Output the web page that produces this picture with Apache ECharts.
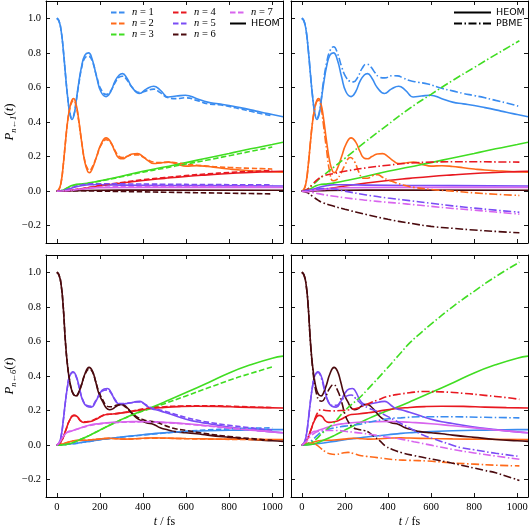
<!DOCTYPE html>
<html><head><meta charset="utf-8">
<script src="https://cdn.jsdelivr.net/npm/echarts@6/dist/echarts.min.js"></script>
<style>html,body{margin:0;padding:0;background:#fff}#c{width:529px;height:529px}</style>
</head><body><div id="c"></div>
<script>
// ---------- tick values ----------
const xTicks = [0, 200, 400, 600, 800, 1000];
const yTicks = [-0.2, 0.0, 0.2, 0.4, 0.6, 0.8, 1.0];
const levelNames = ['n = 1','n = 2','n = 3','n = 4','n = 5','n = 6','n = 7'];

// ---------- HEOM, initial state 1 ----------
const H1_n1 = [[0,1.0],[10,0.985],[20,0.93],[30,0.82],[40,0.68],[50,0.55],[60,0.455],[70,0.415],[80,0.44],[90,0.52],[100,0.61],[115,0.72],[130,0.785],[147,0.80],[165,0.76],[185,0.66],[205,0.575],[229,0.547],[250,0.575],[270,0.635],[290,0.672],[305,0.68],[325,0.655],[350,0.6],[384,0.565],[415,0.59],[450,0.607],[480,0.585],[518,0.545],[555,0.55],[597,0.555],[650,0.535],[700,0.515],[750,0.505],[800,0.495],[850,0.483],[900,0.47],[950,0.456],[1000,0.443],[1050,0.43]];
const H1_n2 = [[0,0],[10,0.01],[20,0.05],[30,0.15],[40,0.28],[50,0.4],[60,0.48],[70,0.525],[78,0.535],[90,0.5],[100,0.43],[115,0.29],[130,0.17],[143,0.115],[152,0.107],[165,0.13],[185,0.2],[205,0.27],[229,0.308],[250,0.285],[270,0.23],[290,0.19],[305,0.187],[325,0.2],[350,0.215],[375,0.217],[400,0.2],[425,0.175],[450,0.16],[480,0.163],[518,0.168],[560,0.155],[600,0.145],[650,0.147],[700,0.143],[750,0.135],[800,0.128],[850,0.122],[900,0.118],[950,0.115],[1000,0.112],[1050,0.11]];
const H1_n3 = [[0,0],[25,0.004],[50,0.02],[70,0.033],[90,0.039],[120,0.042],[150,0.048],[200,0.06],[300,0.086],[400,0.115],[500,0.14],[600,0.165],[700,0.192],[800,0.218],[900,0.245],[1000,0.27],[1050,0.283]];
const H1_n4 = [[0,0],[50,0.003],[100,0.01],[150,0.02],[200,0.03],[300,0.047],[400,0.062],[500,0.074],[600,0.085],[700,0.094],[800,0.102],[900,0.108],[1000,0.113],[1050,0.115]];
const H1_n5 = [[0,0],[30,0.004],[60,0.014],[90,0.025],[120,0.033],[150,0.037],[200,0.037],[300,0.035],[500,0.033],[700,0.032],[1050,0.03]];
const H1_n6 = [[0,0],[50,0.001],[100,0.003],[200,0.005],[400,0.006],[1050,0.005]];
const H1_n7 = [[0,0],[50,0.003],[100,0.01],[150,0.016],[200,0.02],[400,0.022],[700,0.022],[1050,0.021]];

// ---------- approximate method (dashed), initial state 1 ----------
const A1_n1 = [[0,1.0],[10,0.985],[20,0.93],[30,0.82],[40,0.68],[50,0.55],[60,0.46],[70,0.425],[80,0.445],[90,0.52],[100,0.6],[115,0.71],[130,0.77],[148,0.78],[165,0.75],[185,0.665],[205,0.59],[229,0.56],[250,0.58],[270,0.625],[290,0.66],[305,0.665],[325,0.645],[350,0.6],[384,0.57],[415,0.58],[450,0.59],[480,0.57],[518,0.54],[555,0.535],[597,0.54],[650,0.525],[700,0.505],[750,0.5],[800,0.49],[850,0.476],[900,0.462],[950,0.448],[1000,0.435]];
const A1_n2 = [[0,0],[10,0.01],[20,0.05],[30,0.15],[40,0.28],[50,0.4],[60,0.475],[70,0.515],[78,0.525],[90,0.49],[100,0.42],[115,0.29],[130,0.175],[145,0.125],[152,0.12],[165,0.14],[185,0.2],[205,0.265],[229,0.297],[250,0.28],[270,0.235],[290,0.2],[305,0.195],[325,0.2],[350,0.21],[375,0.21],[400,0.198],[425,0.18],[450,0.168],[480,0.165],[518,0.168],[560,0.163],[600,0.155],[650,0.15],[700,0.145],[750,0.14],[800,0.137],[850,0.134],[900,0.132],[950,0.13],[1000,0.128]];
const A1_n3 = [[0,0],[25,0.004],[50,0.018],[70,0.03],[90,0.036],[120,0.04],[150,0.046],[200,0.058],[300,0.083],[400,0.11],[500,0.133],[600,0.157],[700,0.18],[800,0.205],[900,0.23],[1000,0.255]];
const A1_n4 = [[0,0],[50,0.003],[100,0.011],[150,0.022],[200,0.033],[300,0.05],[400,0.066],[500,0.078],[600,0.09],[700,0.1],[800,0.108],[900,0.114],[1000,0.12]];
const A1_n5 = [[0,0],[30,0.004],[60,0.015],[90,0.028],[120,0.037],[150,0.042],[200,0.043],[300,0.042],[500,0.04],[700,0.038],[1000,0.036]];
const A1_n6 = [[0,0],[50,0.001],[100,0.002],[200,0.0],[300,-0.002],[400,-0.004],[500,-0.006],[600,-0.008],[700,-0.01],[800,-0.012],[900,-0.014],[1000,-0.016]];
const A1_n7 = [[0,0],[50,0.003],[100,0.01],[150,0.018],[200,0.023],[400,0.026],[700,0.027],[1000,0.027]];

// ---------- PBME (dash-dot), initial state 1 ----------
const P1_n1 = [[0,1.0],[10,0.985],[20,0.93],[30,0.82],[40,0.68],[50,0.55],[60,0.46],[70,0.425],[80,0.45],[90,0.53],[100,0.63],[115,0.74],[130,0.81],[148,0.835],[165,0.8],[185,0.72],[205,0.66],[225,0.635],[240,0.632],[260,0.66],[280,0.71],[300,0.735],[320,0.72],[340,0.685],[360,0.66],[385,0.655],[420,0.668],[445,0.667],[470,0.655],[500,0.64],[540,0.63],[585,0.62],[650,0.595],[700,0.58],[750,0.565],[800,0.553],[850,0.54],[900,0.525],[950,0.51],[1010,0.49]];
const P1_n2 = [[0,0],[10,0.01],[20,0.05],[30,0.15],[40,0.28],[50,0.4],[60,0.475],[70,0.52],[78,0.525],[90,0.48],[100,0.39],[115,0.24],[130,0.11],[145,0.06],[160,0.065],[180,0.1],[200,0.15],[225,0.195],[245,0.17],[265,0.11],[285,0.075],[305,0.075],[330,0.09],[352,0.095],[375,0.08],[400,0.065],[430,0.052],[470,0.035],[520,0.022],[600,0.01],[700,0.0],[800,-0.01],[900,-0.018],[1010,-0.025]];
const P1_n3 = [[0,0],[25,0.01],[50,0.035],[100,0.09],[150,0.14],[200,0.19],[300,0.29],[400,0.385],[500,0.478],[600,0.56],[700,0.64],[800,0.715],[900,0.79],[1010,0.87]];
const P1_n4 = [[0,0],[25,0.01],[50,0.04],[75,0.07],[100,0.088],[150,0.102],[200,0.115],[300,0.135],[400,0.15],[500,0.162],[600,0.168],[700,0.17],[800,0.17],[900,0.169],[1010,0.168]];
const P1_n5 = [[0,0],[50,0.008],[100,0.015],[150,0.012],[200,0.0],[300,-0.022],[400,-0.04],[500,-0.055],[600,-0.07],[700,-0.085],[800,-0.098],[900,-0.11],[1010,-0.122]];
const P1_n6 = [[0,0],[25,-0.008],[50,-0.03],[75,-0.052],[100,-0.068],[150,-0.088],[200,-0.105],[300,-0.135],[400,-0.163],[500,-0.185],[600,-0.204],[700,-0.215],[800,-0.225],[900,-0.233],[1010,-0.241]];
const P1_n7 = [[0,0],[50,-0.008],[100,-0.02],[150,-0.03],[200,-0.038],[263,-0.048],[300,-0.053],[400,-0.065],[460,-0.071],[500,-0.076],[600,-0.088],[700,-0.1],[800,-0.11],[900,-0.121],[1010,-0.133]];

// ---------- HEOM, initial state 6 ----------
const H6_n1 = [[0,0],[50,0.005],[100,0.012],[150,0.022],[200,0.032],[250,0.039],[300,0.047],[400,0.06],[460,0.068],[500,0.072],[600,0.079],[700,0.083],[800,0.086],[900,0.088],[1000,0.09],[1050,0.09]];
const H6_n2 = [[0,0],[30,0.008],[60,0.02],[90,0.027],[120,0.028],[150,0.03],[200,0.035],[240,0.04],[280,0.037],[320,0.035],[400,0.04],[460,0.042],[500,0.041],[600,0.038],[700,0.036],[850,0.034],[1050,0.032]];
const H6_n3 = [[0,0],[50,0.006],[100,0.028],[150,0.055],[200,0.087],[250,0.118],[300,0.148],[350,0.176],[400,0.2],[450,0.224],[500,0.25],[600,0.304],[700,0.36],[800,0.418],[900,0.465],[1000,0.503],[1050,0.515]];
const H6_n4 = [[0,0],[20,0.02],[40,0.08],[60,0.145],[80,0.172],[95,0.165],[110,0.14],[125,0.132],[150,0.135],[180,0.148],[210,0.168],[230,0.177],[260,0.18],[307,0.187],[350,0.195],[415,0.208],[500,0.218],[570,0.223],[650,0.225],[750,0.224],[850,0.22],[950,0.217],[1050,0.215]];
const H6_n5 = [[0,0],[10,0.01],[20,0.05],[30,0.14],[40,0.25],[50,0.34],[60,0.4],[75,0.425],[90,0.4],[105,0.33],[120,0.26],[140,0.225],[160,0.22],[180,0.25],[200,0.3],[220,0.325],[235,0.328],[250,0.31],[270,0.26],[285,0.24],[300,0.235],[320,0.24],[345,0.245],[370,0.252],[385,0.253],[400,0.245],[420,0.225],[440,0.21],[460,0.205],[500,0.19],[550,0.17],[600,0.15],[650,0.135],[700,0.125],[800,0.105],[900,0.09],[1000,0.077],[1050,0.072]];
const H6_n6 = [[0,1.0],[10,0.985],[20,0.93],[30,0.8],[40,0.6],[50,0.46],[60,0.37],[70,0.315],[80,0.29],[90,0.285],[100,0.3],[115,0.35],[130,0.41],[150,0.45],[165,0.43],[180,0.37],[195,0.3],[214,0.25],[230,0.215],[245,0.205],[260,0.21],[280,0.228],[300,0.235],[320,0.225],[345,0.19],[370,0.158],[395,0.14],[415,0.13],[450,0.12],[480,0.1],[510,0.09],[550,0.078],[600,0.072],[650,0.066],[700,0.058],[800,0.045],[900,0.033],[1000,0.025],[1050,0.022]];
const H6_n7 = [[0,0],[15,0.02],[30,0.05],[50,0.075],[70,0.082],[100,0.095],[150,0.115],[200,0.125],[260,0.132],[350,0.136],[415,0.137],[500,0.132],[600,0.124],[700,0.112],[800,0.1],[900,0.088],[1000,0.077],[1050,0.072]];

// ---------- approximate method (dashed), initial state 6 ----------
const A6_n1 = [[0,0],[50,0.005],[100,0.012],[150,0.022],[200,0.032],[250,0.039],[300,0.046],[400,0.058],[500,0.07],[600,0.08],[700,0.088],[800,0.094],[900,0.098],[1000,0.1]];
const A6_n2 = [[0,0],[30,0.008],[60,0.02],[90,0.027],[120,0.028],[150,0.03],[200,0.035],[240,0.039],[280,0.037],[320,0.035],[400,0.039],[460,0.04],[500,0.04],[600,0.037],[700,0.035],[850,0.033],[1000,0.031]];
const A6_n3 = [[0,0],[50,0.006],[100,0.028],[150,0.055],[200,0.087],[250,0.118],[300,0.147],[350,0.174],[400,0.197],[450,0.218],[500,0.24],[600,0.285],[700,0.33],[800,0.375],[900,0.415],[1000,0.452]];
const A6_n4 = [[0,0],[20,0.02],[40,0.08],[60,0.145],[80,0.172],[95,0.165],[110,0.142],[125,0.135],[150,0.138],[180,0.152],[210,0.17],[230,0.178],[260,0.18],[307,0.188],[350,0.198],[415,0.212],[500,0.222],[570,0.226],[650,0.228],[750,0.227],[850,0.223],[950,0.219],[1000,0.218]];
const A6_n5 = [[0,0],[10,0.01],[20,0.05],[30,0.14],[40,0.25],[50,0.34],[60,0.4],[75,0.42],[90,0.395],[105,0.33],[120,0.265],[140,0.23],[160,0.225],[180,0.255],[200,0.295],[220,0.318],[235,0.32],[250,0.305],[270,0.265],[285,0.245],[300,0.24],[320,0.242],[345,0.245],[370,0.25],[385,0.25],[400,0.243],[420,0.228],[440,0.215],[460,0.21],[500,0.197],[550,0.178],[600,0.16],[650,0.145],[700,0.133],[800,0.115],[900,0.1],[1000,0.088]];
const A6_n6 = [[0,1.0],[10,0.985],[20,0.93],[30,0.8],[40,0.6],[50,0.46],[60,0.37],[70,0.315],[80,0.29],[90,0.285],[100,0.3],[115,0.35],[130,0.405],[150,0.44],[165,0.425],[180,0.37],[195,0.31],[214,0.26],[230,0.23],[245,0.222],[260,0.222],[280,0.232],[300,0.232],[320,0.22],[345,0.19],[370,0.165],[395,0.15],[420,0.14],[450,0.135],[480,0.125],[510,0.11],[550,0.095],[600,0.085],[650,0.075],[700,0.065],[800,0.05],[900,0.038],[1000,0.028]];
const A6_n7 = [[0,0],[15,0.02],[30,0.05],[50,0.075],[70,0.082],[100,0.095],[150,0.113],[200,0.123],[260,0.13],[350,0.134],[415,0.135],[500,0.13],[600,0.122],[700,0.11],[800,0.098],[900,0.087],[1000,0.078]];

// ---------- PBME (dash-dot), initial state 6 ----------
const P6_n1 = [[0,0],[30,0.01],[50,0.03],[75,0.06],[100,0.08],[132,0.095],[200,0.11],[264,0.12],[300,0.13],[403,0.153],[460,0.158],[558,0.164],[700,0.164],[850,0.161],[1010,0.158]];
const P6_n2 = [[0,0],[25,0.01],[50,0.012],[70,0.0],[90,-0.02],[110,-0.038],[130,-0.05],[155,-0.054],[185,-0.047],[215,-0.042],[240,-0.048],[265,-0.058],[300,-0.065],[350,-0.072],[420,-0.083],[500,-0.088],[585,-0.092],[700,-0.103],[800,-0.11],[900,-0.116],[1010,-0.12]];
const P6_n3 = [[0,0],[50,0.02],[100,0.075],[150,0.13],[200,0.2],[264,0.27],[300,0.315],[400,0.45],[460,0.535],[500,0.59],[558,0.655],[600,0.7],[700,0.8],[800,0.89],[900,0.975],[1010,1.058]];
const P6_n4 = [[0,0],[20,0.02],[40,0.08],[60,0.15],[75,0.19],[90,0.205],[110,0.2],[140,0.198],[180,0.2],[220,0.205],[264,0.216],[300,0.235],[350,0.26],[403,0.283],[460,0.296],[500,0.303],[558,0.31],[650,0.308],[750,0.3],[850,0.288],[950,0.275],[1010,0.265]];
const P6_n5 = [[0,0],[10,0.01],[20,0.05],[30,0.14],[40,0.25],[50,0.34],[60,0.4],[75,0.42],[90,0.39],[105,0.32],[120,0.26],[140,0.23],[160,0.23],[185,0.26],[210,0.285],[230,0.29],[250,0.27],[280,0.235],[310,0.215],[350,0.195],[400,0.165],[430,0.145],[460,0.125],[500,0.1],[560,0.06],[615,0.035],[700,0.0],[740,-0.015],[800,-0.027],[900,-0.047],[1010,-0.065]];
const P6_n6 = [[0,1.0],[10,0.985],[20,0.93],[30,0.8],[40,0.6],[50,0.45],[60,0.35],[70,0.29],[80,0.26],[93,0.254],[110,0.28],[130,0.33],[147,0.35],[165,0.32],[185,0.25],[200,0.18],[216,0.135],[235,0.105],[264,0.09],[290,0.085],[310,0.075],[335,0.05],[360,0.028],[388,-0.005],[420,-0.025],[465,-0.044],[520,-0.06],[615,-0.083],[700,-0.105],[848,-0.146],[900,-0.16],[1010,-0.205]];
const P6_n7 = [[0,0],[20,0.02],[40,0.05],[60,0.07],[80,0.08],[120,0.085],[160,0.085],[200,0.08],[264,0.071],[330,0.06],[400,0.045],[460,0.035],[520,0.02],[600,0.0],[700,-0.025],[800,-0.045],[900,-0.063],[1010,-0.082]];

// ---------- styling ----------
const colors = ['#3a8cf0','#ff6a1a','#40dd22','#e81820','#7a4cf5','#4a0a0e','#d864ee'];
const DASH = [5.5, 2.5];
const DASHDOT = [8, 2.5, 1.5, 2.5];
const SERIF = 'Liberation Serif';
const SANS = 'DejaVu Sans';

const panels = [
  {left:46,  top:1,   heom:[H1_n1,H1_n2,H1_n3,H1_n4,H1_n5,H1_n6,H1_n7], other:[A1_n1,A1_n2,A1_n3,A1_n4,A1_n5,A1_n6,A1_n7], dash:DASH,    xl:false, yl:true,  yname:'1'},
  {left:291, top:1,   heom:[H1_n1,H1_n2,H1_n3,H1_n4,H1_n5,H1_n6,H1_n7], other:[P1_n1,P1_n2,P1_n3,P1_n4,P1_n5,P1_n6,P1_n7], dash:DASHDOT, xl:false, yl:false},
  {left:46,  top:255, heom:[H6_n1,H6_n2,H6_n3,H6_n4,H6_n5,H6_n6,H6_n7], other:[A6_n1,A6_n2,A6_n3,A6_n4,A6_n5,A6_n6,A6_n7], dash:DASH,    xl:true,  yl:true,  yname:'6'},
  {left:291, top:255, heom:[H6_n1,H6_n2,H6_n3,H6_n4,H6_n5,H6_n6,H6_n7], other:[P6_n1,P6_n2,P6_n3,P6_n4,P6_n5,P6_n6,P6_n7], dash:DASHDOT, xl:true,  yl:false}
];

const grids = [], xAxes = [], yAxes = [], series = [];
const lineAx = {show:true, onZero:false, lineStyle:{color:'#000', width:1}};
const tickX = {show:true, inside:true, length:4, customValues:xTicks, lineStyle:{color:'#000', width:0.9}};
const tickY = {show:true, inside:true, length:4, customValues:yTicks, lineStyle:{color:'#000', width:0.9}};
const fmtY = v => (v < 0 ? '\u2212' : '') + Math.abs(v).toFixed(1);
const fmtX = v => String(Math.round(v));

panels.forEach((p, i) => {
  grids.push({left:p.left, top:p.top, width:237, height:242, containLabel:false, outerBoundsMode:'none'});
  const xb = {gridIndex:i, type:'value', min:-50, max:1050, position:'bottom', axisLine:lineAx, axisTick:tickX, splitLine:{show:false},
    axisLabel:{show:p.xl, customValues:xTicks, formatter:fmtX, fontFamily:SERIF, fontSize:10.5, color:'#000', margin:5}};
  if (p.xl) {
    xb.name = '{i|t} / fs'; xb.nameLocation = 'middle'; xb.nameGap = 19;
    xb.nameTextStyle = {fontFamily:SERIF, fontSize:12, color:'#000', rich:{i:{fontFamily:SERIF, fontStyle:'italic', fontSize:12}}};
  }
  xAxes.push(xb);
  xAxes.push({gridIndex:i, type:'value', min:-50, max:1050, position:'top', axisLine:lineAx, axisTick:tickX, axisLabel:{show:false}, splitLine:{show:false}});
  const yl = {gridIndex:i, type:'value', min:-0.3, max:1.1, position:'left', axisLine:lineAx, axisTick:tickY, splitLine:{show:false},
    axisLabel:{show:p.yl, customValues:yTicks, formatter:fmtY, fontFamily:SERIF, fontSize:10.5, color:'#000', margin:5}};
  if (p.yl) {
    yl.name = '{p|P}{s|n\u2190' + p.yname + '}{q|(}{pi|t}{q|)}';
    yl.nameLocation = 'middle'; yl.nameGap = 12; yl.nameRotate = 90;
    yl.nameTextStyle = {color:'#000', rich:{
      p:{fontFamily:SERIF, fontStyle:'italic', fontSize:13, lineHeight:16, verticalAlign:'middle'},
      s:{fontFamily:SERIF, fontStyle:'italic', fontSize:8.5, lineHeight:10, verticalAlign:'bottom'},
      q:{fontFamily:SERIF, fontSize:13, lineHeight:16, verticalAlign:'middle'},
      pi:{fontFamily:SERIF, fontStyle:'italic', fontSize:13, lineHeight:16, verticalAlign:'middle'}}};
  }
  yAxes.push(yl);
  yAxes.push({gridIndex:i, type:'value', min:-0.3, max:1.1, position:'right', axisLine:lineAx, axisTick:tickY, axisLabel:{show:false}, splitLine:{show:false}});

  p.heom.forEach((d, k) => {
    series.push({type:'line', name:'heom'+i+'_'+k, xAxisIndex:2*i, yAxisIndex:2*i, data:d, smooth:0.5,
      symbol:'none', showSymbol:false, silent:true, z:2, lineStyle:{color:colors[k], width:1.6, type:'solid'}, itemStyle:{color:colors[k]}});
  });
  p.other.forEach((d, k) => {
    series.push({type:'line', name: i===0 ? levelNames[k] : 'alt'+i+'_'+k, xAxisIndex:2*i, yAxisIndex:2*i, data:d, smooth:0.5,
      symbol:'none', showSymbol:false, silent:true, z:3, lineStyle:{color:colors[k], width:1.6, type:p.dash}, itemStyle:{color:colors[k]}});
  });
});
// legend-only entries (no data)
series.push({type:'line', name:'HEOM', xAxisIndex:0, yAxisIndex:0, data:[], symbol:'none', lineStyle:{color:'#000', width:1.6, type:'solid'}, itemStyle:{color:'#000'}});
series.push({type:'line', name:'PBME', xAxisIndex:2, yAxisIndex:2, data:[], symbol:'none', lineStyle:{color:'#000', width:1.6, type:DASHDOT}, itemStyle:{color:'#000'}});

const legFmt = n => n.startsWith('n') ? '{i|n}{m| = ' + n.slice(4) + '}' : n;
const legRich = {i:{fontFamily:SERIF, fontStyle:'italic', fontSize:10.5}, m:{fontFamily:SERIF, fontSize:10.5}};
const legBase = {orient:'vertical', top:7, itemWidth:16, itemHeight:11, itemGap:0, selectedMode:false, padding:0,
  itemStyle:{opacity:0, color:'transparent', borderColor:'transparent', borderWidth:0},
  formatter:legFmt, textStyle:{fontFamily:SANS, fontSize:9.5, color:'#000', lineHeight:11, rich:legRich}};

const option = {
  animation:false, backgroundColor:'#fff',
  grid:grids, xAxis:xAxes, yAxis:yAxes, series:series,
  legend:[
    Object.assign({}, legBase, {data:['n = 1','n = 2','n = 3'], left:110}),
    Object.assign({}, legBase, {data:['n = 4','n = 5','n = 6'], left:172}),
    Object.assign({}, legBase, {data:['n = 7','HEOM'], left:229}),
    Object.assign({}, legBase, {data:['HEOM','PBME'], left:453, itemWidth:37})
  ]
};
const chart = echarts.init(document.getElementById('c'), null, {renderer:'canvas'});
chart.setOption(option);
</script></body></html>
